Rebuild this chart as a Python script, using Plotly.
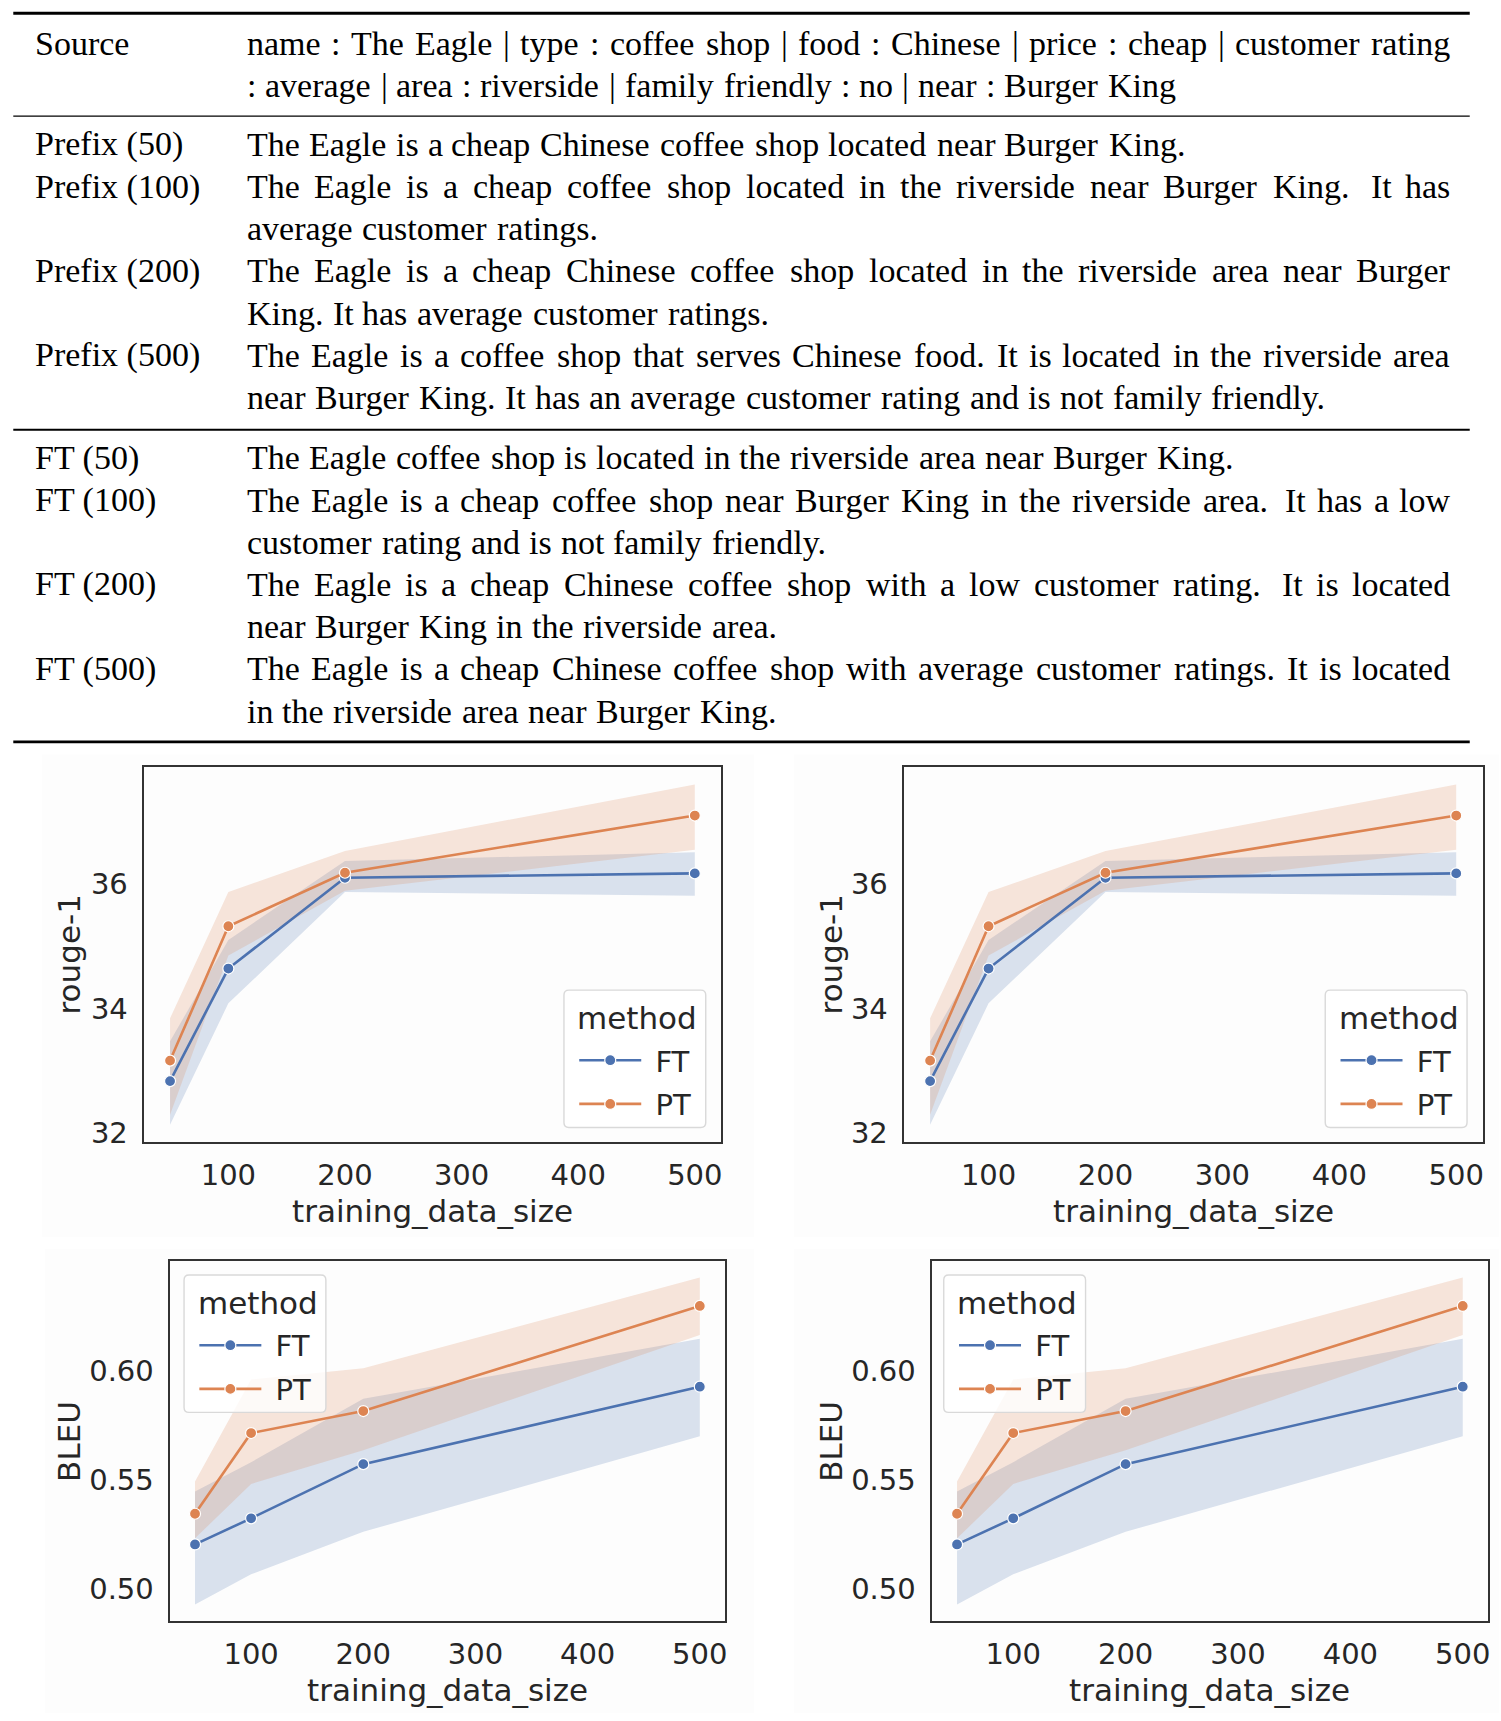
import re
import plotly.graph_objects as go

W, H = 1501, 1721

# ---- data -------------------------------------------------------------
sizes = [50, 100, 200, 500]
methods = ["FT", "PT"]

rouge_ft = [32.83, 34.64, 36.10, 36.17]
rouge_ft_lo = [32.13, 34.08, 35.87, 35.81]
rouge_ft_hi = [33.47, 35.10, 36.37, 36.51]
rouge_pt = [33.16, 35.32, 36.18, 37.10]
rouge_pt_lo = [32.29, 34.85, 35.89, 36.55]
rouge_pt_hi = [33.84, 35.87, 36.53, 37.60]

bleu_ft = [0.5202, 0.5322, 0.5571, 0.5927]
bleu_ft_lo = [0.4926, 0.5065, 0.5260, 0.5699]
bleu_ft_hi = [0.5445, 0.5580, 0.5871, 0.6147]
bleu_pt = [0.5343, 0.5714, 0.5815, 0.6298]
bleu_pt_lo = [0.5230, 0.5480, 0.5635, 0.6164]
bleu_pt_hi = [0.5491, 0.5960, 0.6012, 0.6429]

x_ticks = [100, 200, 300, 400, 500]
rouge_ticks = [32, 34, 36]
bleu_ticks = [0.50, 0.55, 0.60]

row_labels = ["Source", "Prefix (50)", "Prefix (100)", "Prefix (200)", "Prefix (500)",
              "FT (50)", "FT (100)", "FT (200)", "FT (500)"]
row_texts = [
    ["name : The Eagle | type : coffee shop | food : Chinese | price : cheap | customer rating",
     ": average | area : riverside | family friendly : no | near : Burger King"],
    ["The Eagle is a cheap Chinese coffee shop located near Burger King."],
    ["The Eagle is a cheap coffee shop located in the riverside near Burger King.  It has",
     "average customer ratings."],
    ["The Eagle is a cheap Chinese coffee shop located in the riverside area near Burger",
     "King. It has average customer ratings."],
    ["The Eagle is a coffee shop that serves Chinese food. It is located in the riverside area",
     "near Burger King. It has an average customer rating and is not family friendly."],
    ["The Eagle coffee shop is located in the riverside area near Burger King."],
    ["The Eagle is a cheap coffee shop near Burger King in the riverside area.  It has a low",
     "customer rating and is not family friendly."],
    ["The Eagle is a cheap Chinese coffee shop with a low customer rating.  It is located",
     "near Burger King in the riverside area."],
    ["The Eagle is a cheap Chinese coffee shop with average customer ratings. It is located",
     "in the riverside area near Burger King."],
]
row_block = [0, 1, 1, 1, 1, 2, 2, 2, 2]

BLUE, ORANGE = "#4C72B0", "#DD8452"
BAND = {"FT": "rgba(76,114,176,0.2)", "PT": "rgba(221,132,82,0.2)"}
LINE = {"FT": BLUE, "PT": ORANGE}
INK = "#262626"

metric_data = {
    "rouge": {"FT": (rouge_ft, rouge_ft_lo, rouge_ft_hi),
              "PT": (rouge_pt, rouge_pt_lo, rouge_pt_hi),
              "ticks": rouge_ticks, "fmt": "d", "title": "rouge-1"},
    "bleu": {"FT": (bleu_ft, bleu_ft_lo, bleu_ft_hi),
             "PT": (bleu_pt, bleu_pt_lo, bleu_pt_hi),
             "ticks": bleu_ticks, "fmt": ".2f", "title": "BLEU"},
}

# panel geometry in pixels: frame x, frame y, legend box top-left, title positions, figure bg
panels = [
    dict(metric="rouge", fx=(144, 722), fy=(771, 1147), leg=(564.7, 994.7), ytx=69, xty=1217,
         bg=(42, 758, 755, 1243)),
    dict(metric="rouge", fx=(905, 1484.5), fy=(771, 1147), leg=(1327, 994.7), ytx=832, xty=1217,
         bg=(795, 758, 1501, 1243)),
    dict(metric="bleu", fx=(170, 726), fy=(1267, 1628.4), leg=(184.3, 1281), ytx=69, xty=1698,
         bg=(45, 1255, 755, 1721)),
    dict(metric="bleu", fx=(933, 1490), fy=(1267, 1628.4), leg=(945, 1281), ytx=832, xty=1698,
         bg=(795, 1255, 1501, 1721)),
]
LEG_W, LEG_H = 142, 138


def px(x):
    return x / W


def py(y):
    return 1 - y / H


def padded(lo, hi, frac=0.05):
    span = hi - lo
    return [lo - frac * span, hi + frac * span]


fig = go.Figure()

# bands first, lines on top
for k, p in enumerate(panels):
    md = metric_data[p["metric"]]
    sfx = "" if k == 0 else str(k + 1)
    for m in methods:
        mean, lo, hi = md[m]
        fig.add_trace(go.Scatter(
            x=sizes + sizes[::-1], y=hi + lo[::-1], fill="toself", fillcolor=BAND[m],
            line=dict(width=0), mode="lines", hoverinfo="skip", showlegend=False,
            xaxis="x" + sfx, yaxis="y" + sfx))
for k, p in enumerate(panels):
    md = metric_data[p["metric"]]
    sfx = "" if k == 0 else str(k + 1)
    for m in methods:
        mean = md[m][0]
        fig.add_trace(go.Scatter(
            x=sizes, y=mean, name="\u00a0" + m, mode="lines+markers", legendgroup=m + sfx,
            line=dict(color=LINE[m], width=2.6),
            marker=dict(size=11, color=LINE[m], line=dict(color="white", width=1.2)),
            xaxis="x" + sfx, yaxis="y" + sfx, legend="legend" + sfx))

layout = dict(width=W, height=H, margin=dict(l=0, r=0, t=0, b=0),
              paper_bgcolor="white", plot_bgcolor="white", showlegend=True)

axis_common = dict(showline=True, mirror=True, linecolor="#333333", linewidth=2.4,
                   showgrid=False, zeroline=False, ticks="",
                   tickfont=dict(family="DejaVu Sans", size=29, color=INK))

for k, p in enumerate(panels):
    md = metric_data[p["metric"]]
    sfx = "" if k == 0 else str(k + 1)
    all_lo = min(min(md[m][1]) for m in methods)
    all_hi = max(max(md[m][2]) for m in methods)
    layout["xaxis" + sfx] = dict(axis_common, domain=[px(p["fx"][0]), px(p["fx"][1])],
                                 anchor="y" + sfx, range=padded(min(sizes), max(sizes)),
                                 tickvals=x_ticks, ticklabelstandoff=6)
    layout["yaxis" + sfx] = dict(axis_common, domain=[py(p["fy"][1]), py(p["fy"][0])],
                                 anchor="x" + sfx, range=padded(all_lo, all_hi),
                                 tickvals=md["ticks"], tickformat=md["fmt"], ticklabelstandoff=8)
    bx, by = p["leg"]
    layout["legend" + sfx] = dict(
        x=px(bx + 10.3), y=py(by + 45), xanchor="left", yanchor="top",
        xref="paper", yref="paper",
        font=dict(family="DejaVu Sans", size=29, color=INK),
        bgcolor="rgba(0,0,0,0)", borderwidth=0, itemwidth=62, tracegroupgap=3)

fig.update_layout(**layout)

# very faint figure backgrounds behind each panel
for p in panels:
    x0, y0, x1, y1 = p["bg"]
    fig.add_shape(type="rect", xref="paper", yref="paper", layer="below",
                  x0=px(x0), x1=px(x1), y0=py(y1), y1=py(y0),
                  fillcolor="#fdfdfd", line=dict(width=0))

# legend frames (rounded) + legend titles
r = 5
for p in panels:
    bx, by = p["leg"]
    x0, x1, y0, y1 = bx, bx + LEG_W, by, by + LEG_H
    path = (f"M {px(x0 + r)},{py(y0)} L {px(x1 - r)},{py(y0)} Q {px(x1)},{py(y0)} {px(x1)},{py(y0 + r)} "
            f"L {px(x1)},{py(y1 - r)} Q {px(x1)},{py(y1)} {px(x1 - r)},{py(y1)} "
            f"L {px(x0 + r)},{py(y1)} Q {px(x0)},{py(y1)} {px(x0)},{py(y1 - r)} "
            f"L {px(x0)},{py(y0 + r)} Q {px(x0)},{py(y0)} {px(x0 + r)},{py(y0)} Z")
    fig.add_shape(type="path", path=path, xref="paper", yref="paper", layer="above",
                  fillcolor="rgba(255,255,255,0.8)", line=dict(color="#d9d9d9", width=1.4))
    fig.add_annotation(text="method", xref="paper", yref="paper", x=px(bx + 12.5), y=py(by + 28),
                       xanchor="left", yanchor="middle", showarrow=False, borderpad=0,
                       font=dict(family="DejaVu Sans", size=31, color=INK))

# axis titles
for k, p in enumerate(panels):
    md = metric_data[p["metric"]]
    fig.add_annotation(text="training_data_size", xref="paper", yref="paper",
                       x=px((p["fx"][0] + p["fx"][1]) / 2), y=py(p["xty"]),
                       xanchor="center", yanchor="middle", showarrow=False,
                       font=dict(family="DejaVu Sans", size=31, color=INK))
    fig.add_annotation(text=md["title"], xref="paper", yref="paper",
                       x=px(p["ytx"]), y=py((p["fy"][0] + p["fy"][1]) / 2), textangle=-90,
                       xanchor="center", yanchor="middle", showarrow=False,
                       font=dict(family="DejaVu Sans", size=31, color=INK))

# ---- table ---------------------------------------------------------------
TIMES_W = dict(zip("abcdefghijklmnopqrstuvwxyz",
                   [444, 500, 444, 500, 444, 333, 500, 500, 278, 278, 500, 278, 778,
                    500, 500, 500, 500, 333, 389, 278, 500, 500, 722, 500, 500, 444]))
TIMES_W.update(zip("ABCDEFGHIJKLMNOPQRSTUVWXYZ",
                   [722, 667, 667, 722, 611, 556, 722, 722, 333, 389, 722, 611, 889,
                    722, 722, 556, 722, 667, 556, 611, 722, 722, 944, 722, 722, 611]))
TIMES_W.update({c: 500 for c in "0123456789"})
TIMES_W.update({" ": 250, ".": 250, ",": 250, ":": 278, "|": 200, "(": 333, ")": 333, "-": 333})

EM = 34.5          # horizontal em of the reference text
FONT_SIZE = 34
COL1_X, COL2_X, COL2_R = 34, 246, 1453
block_start = [44, 145, 460]
LINE_GAP = 42.4
serif = dict(family="Liberation Serif", size=FONT_SIZE, color="black")


def text_w(s):
    return sum(TIMES_W.get(c, 500) for c in s) / 1000 * EM


def word_note(word, x, y, anchor):
    fig.add_annotation(text=word, xref="paper", yref="paper", x=px(x), y=py(y),
                       xanchor=anchor, yanchor="middle", showarrow=False,
                       borderpad=0, font=serif)


def add_line(text, y, justify):
    parts = re.split(r"( +)", text)
    words, seps = parts[0::2], parts[1::2]
    widths = [text_w(w) for w in words]
    weights = [1 + 0.5 * (len(s) - 1) for s in seps]
    if justify and weights:
        unit = (COL2_R - COL2_X - sum(widths)) / sum(weights)
    else:
        unit = TIMES_W[" "] / 1000 * EM
    x = COL2_X
    for i, w in enumerate(words):
        if justify and i == len(words) - 1 and i > 0:
            word_note(w, COL2_R, y, "right")
        else:
            word_note(w, x, y, "left")
        if i < len(seps):
            x += widths[i] + unit * weights[i]


line_idx = [0, 0, 0]
for label, lines, b in zip(row_labels, row_texts, row_block):
    y0 = block_start[b] + LINE_GAP * line_idx[b]
    word_note(label, COL1_X, y0, "left")
    for j, t in enumerate(lines):
        add_line(t, y0 + LINE_GAP * j, justify=(j < len(lines) - 1))
    line_idx[b] += len(lines)

for y, lw in [(13.3, 2.8), (116.7, 1.3), (431.8, 2.0), (745.3, 2.8)]:
    fig.add_shape(type="line", xref="paper", yref="paper", x0=px(13.3), x1=px(1471.7),
                  y0=py(y), y1=py(y), line=dict(color="black", width=lw))

# page body has a default 8px margin; drop it so the figure sits at the origin
fig.write_html("out.html", config={"displayModeBar": False},
               post_script="document.body.style.margin='0px';")
